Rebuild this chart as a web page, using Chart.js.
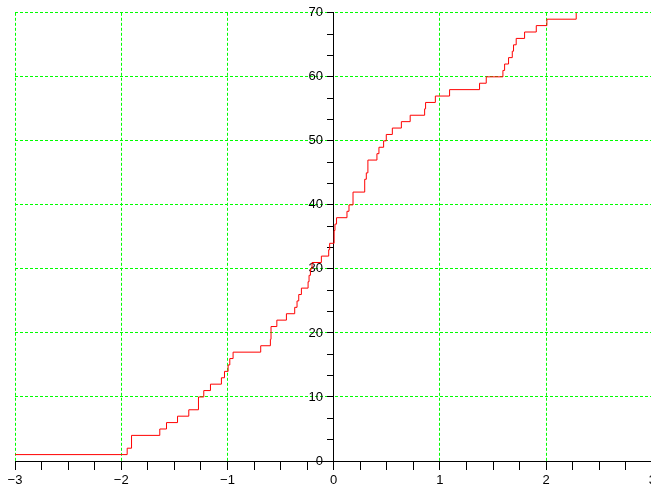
<!DOCTYPE html>
<html lang="en">
<head>
  <meta charset="UTF-8" />
  <title>Step count chart</title>
  <script src="https://cdn.jsdelivr.net/npm/chart.js"></script>
  <style>
    html, body {
      margin: 0;
      padding: 0;
      background: #ffffff;
      overflow: hidden;
    }
    .wrap {
      position: relative;
      width: 660px;
      height: 489px;
    }
  </style>
</head>
<body>
  <div class="wrap">
    <canvas id="stepChart"></canvas>
  </div>

  <script>
    // x where each step happens, and the count reached there
    const stepX = [
      -3, -1.944, -1.903, -1.637, -1.574, -1.47, -1.364, -1.273, -1.223, -1.16,
      -1.057, -1.028, -0.994, -0.978, -0.947, -0.687, -0.596, -0.59, -0.535, -0.445,
      -0.367, -0.345, -0.329, -0.304, -0.241, -0.232, -0.219, -0.204, -0.116, -0.047,
      -0.038, 0.004, 0.012, 0.027, 0.125, 0.144, 0.182, 0.292, 0.307, 0.322,
      0.407, 0.426, 0.47, 0.495, 0.552, 0.637, 0.72, 0.856, 0.865, 0.957,
      1.091, 1.373, 1.436, 1.593, 1.609, 1.646, 1.681, 1.693, 1.718, 1.797,
      1.907, 2.007, 2.283
    ];
    const countY = [
      1, 2, 4, 5, 6, 7, 8, 10, 11, 12,
      13, 14, 15, 16, 17, 18, 19, 21, 22, 23,
      24, 25, 26, 27, 28, 29, 30, 31, 32, 33,
      34, 36, 37, 38, 39, 40, 42, 44, 45, 47,
      48, 49, 50, 51, 52, 53, 54, 55, 56, 57,
      58, 59, 60, 61, 62, 63, 64, 65, 66, 67,
      68, 69, 70
    ];

    const xMajor = [-3, -2, -1, 0, 1, 2, 3];
    const yMajor = [0, 10, 20, 30, 40, 50, 60, 70];
    const xMinorPerMajor = 4;   // small ticks every 0.25
    const yMinorPerMajor = 3;   // small ticks every 10/3

    function withMinor(major, parts) {
      const out = [];
      for (let i = 0; i < major.length; i++) {
        out.push({ value: major[i], major: true });
        if (i < major.length - 1) {
          const step = (major[i + 1] - major[i]) / parts;
          for (let k = 1; k < parts; k++) {
            out.push({ value: major[i] + step * k, major: false });
          }
        }
      }
      return out;
    }
    const isMajor = (v, list) => list.some(m => Math.abs(m - v) < 1e-6);
    const fmt = v => (v < 0 ? '\u2212' + Math.abs(v) : String(v));

    const points = stepX.map((x, i) => ({ x: x, y: countY[i] }));

    const gridGreen = '#00ff00';
    const font = { family: "'Liberation Sans', Arial, sans-serif", size: 13 };

    new Chart(document.getElementById('stepChart'), {
      type: 'line',
      data: {
        datasets: [{
          data: points,
          stepped: true,
          borderColor: '#ff0000',
          borderWidth: 1,
          pointRadius: 0,
          fill: false
        }]
      },
      options: {
        responsive: true,
        maintainAspectRatio: false,
        animation: false,
        layout: { padding: { left: 15, right: 7, top: 11, bottom: 28 } },
        plugins: { legend: { display: false }, tooltip: { enabled: false } },
        scales: {
          x: {
            type: 'linear',
            min: -3,
            max: 3,
            position: { y: 0 },
            afterBuildTicks: s => { s.ticks = withMinor(xMajor, xMinorPerMajor); },
            grid: {
              color: c => isMajor(c.tick.value, xMajor) ? gridGreen : 'rgba(0,0,0,0)',
              tickColor: '#000000',
              tickLength: 8,
              lineWidth: 1
            },
            border: { color: '#000000', width: 1, dash: [3, 2] },
            ticks: {
              autoSkip: false,
              maxRotation: 0,
              padding: 4,
              color: '#000000',
              font: font,
              callback: v => isMajor(v, xMajor) ? fmt(v) : ''
            }
          },
          y: {
            type: 'linear',
            min: 0,
            max: 70,
            position: { x: 0 },
            afterBuildTicks: s => { s.ticks = withMinor(yMajor, yMinorPerMajor); },
            grid: {
              color: c => isMajor(c.tick.value, yMajor) ? gridGreen : 'rgba(0,0,0,0)',
              tickColor: '#000000',
              tickLength: 6,
              lineWidth: 1
            },
            border: { color: '#000000', width: 1, dash: [3, 2] },
            ticks: {
              autoSkip: false,
              padding: 5,
              color: '#000000',
              font: font,
              // labels sit right-aligned on the axis line; trailing spaces push them clear of the ticks
              callback: v => isMajor(v, yMajor) ? fmt(Math.round(v)) + '   ' : ''
            }
          }
        }
      }
    });
  </script>
</body>
</html>
